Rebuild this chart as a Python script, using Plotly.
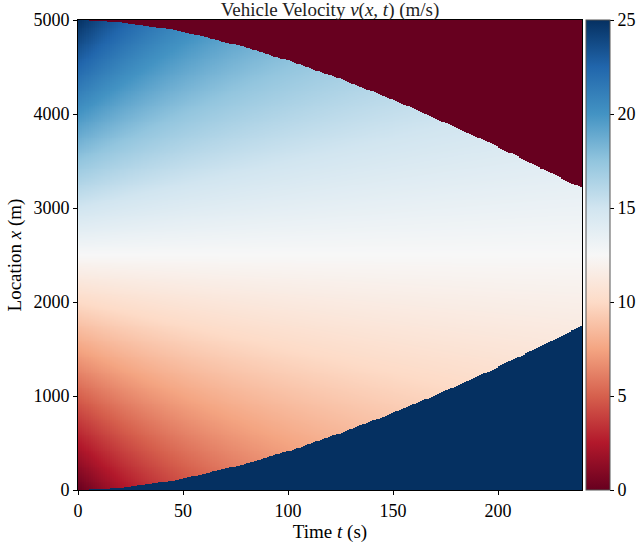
import numpy as np
import plotly.graph_objects as go

# ---- values ----
V_MAX = 25.0  # m/s, colour range top
ROAD_LENGTH = 5000.0  # m
T_END = 240.0  # s

# initial velocity profile (t = 0 column)
init_positions_m = [0, 1000, 2000, 3000, 4000, 5000]
init_velocity_ms = [0, 5, 10, 15, 20, 25]

# shock fronts
front_times_s = [0, 20, 40, 60, 80, 100, 120, 140, 160, 180, 200, 220, 240]
lower_front_m = [0, 20, 80, 170, 282, 412, 566, 733, 912, 1105, 1310, 1525, 1745]
upper_front_m = [5000, 4978, 4916, 4824, 4707, 4570, 4414, 4243, 4058, 3860, 3650, 3430, 3210]

inflow_velocity = 25.0   # below the lower front
jam_velocity = 0.0       # above the upper front

x_tick_vals = [0, 50, 100, 150, 200]
y_tick_vals = [0, 1000, 2000, 3000, 4000, 5000]
cbar_tick_vals = [0, 5, 10, 15, 20, 25]

# ---- build the field (velocity carried along characteristics) ----
dt, dx = 1.0, 10.0
t_centers = np.arange(dt / 2, T_END, dt)
x_centers = np.arange(dx / 2, ROAD_LENGTH, dx)

x0_fine = np.linspace(0, ROAD_LENGTH, 4001)
v0_fine = np.interp(x0_fine, init_positions_m, init_velocity_ms)

Z = np.empty((len(x_centers), len(t_centers)))
for j, t in enumerate(t_centers):
    foot = x0_fine + (2 * v0_fine - V_MAX) * t
    col = np.interp(x_centers, foot, v0_fine)
    lo = np.interp(t, front_times_s, lower_front_m)
    hi = np.interp(t, front_times_s, upper_front_m)
    col[x_centers < lo] = inflow_velocity
    col[x_centers > hi] = jam_velocity
    Z[:, j] = col
Z = np.round(Z, 2)

rdbu = ['rgb(103,0,31)', 'rgb(178,24,43)', 'rgb(214,96,77)', 'rgb(244,165,130)',
        'rgb(253,219,199)', 'rgb(247,247,247)', 'rgb(209,229,240)', 'rgb(146,197,222)',
        'rgb(67,147,195)', 'rgb(33,102,172)', 'rgb(5,48,97)']
cscale = [[i / (len(rdbu) - 1), c] for i, c in enumerate(rdbu)]

FONT = "Liberation Serif"
TICK_SIZE = 18
TITLE_SIZE = 19

fig = go.Figure(go.Heatmap(
    x=t_centers, y=x_centers, z=Z,
    zmin=0, zmax=V_MAX, colorscale=cscale,
    colorbar=dict(
        x=1.008, xanchor="left", xpad=0, y=0.5, yanchor="middle",
        len=1.0, lenmode="fraction", ypad=0,
        thickness=24, outlinecolor="#555", outlinewidth=1,
        tickvals=cbar_tick_vals, ticks="outside", ticklen=4,
        tickcolor="black", tickfont=dict(family=FONT, size=TICK_SIZE, color="black"),
    ),
    hovertemplate="t=%{x}<br>x=%{y}<br>v=%{z}<extra></extra>",
))

fig.update_layout(
    width=636, height=543,
    margin=dict(l=78, r=54, t=20, b=53, autoexpand=False),
    paper_bgcolor="white", plot_bgcolor="white",
    font=dict(family=FONT, size=TICK_SIZE, color="black"),
    title=dict(text="Vehicle Velocity <i>v</i>(<i>x</i>, <i>t</i>) (m/s)",
               x=(78 + 582) / 2 / 636, xanchor="center",
               y=1 - 9 / 543, yanchor="middle",
               font=dict(family=FONT, size=TITLE_SIZE, color="#222")),
)
fig.update_xaxes(
    range=[0, T_END], tickvals=x_tick_vals, ticks="outside", ticklen=4,
    tickcolor="black", showline=True, mirror=True, linecolor="black", linewidth=1,
    showgrid=False, zeroline=False,
    title=dict(text="Time <i>t</i> (s)", standoff=4, font=dict(family=FONT, size=TITLE_SIZE)),
    tickfont=dict(family=FONT, size=TICK_SIZE),
)
fig.update_yaxes(
    range=[0, ROAD_LENGTH], tickvals=y_tick_vals, ticks="outside", ticklen=4,
    tickcolor="black", showline=True, mirror=True, linecolor="black", linewidth=1,
    showgrid=False, zeroline=False,
    title=dict(text="Location <i>x</i> (m)", standoff=6, font=dict(family=FONT, size=TITLE_SIZE)),
    tickfont=dict(family=FONT, size=TICK_SIZE),
)

fig.write_html("out.html",
               config={"displayModeBar": False},
               post_script="document.body.style.margin='0';document.body.style.overflow='hidden';")
